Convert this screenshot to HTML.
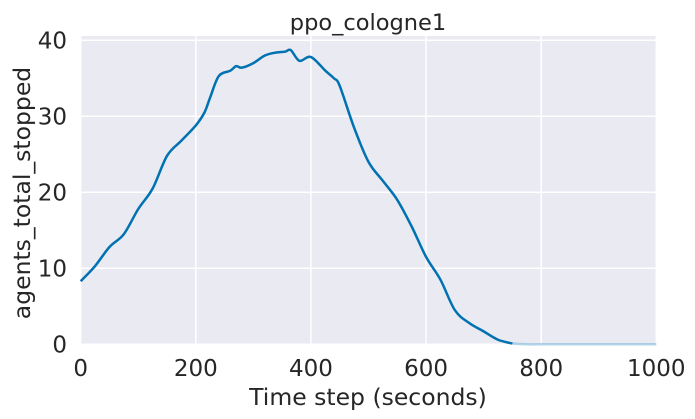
<!DOCTYPE html>
<html><head><meta charset="utf-8"><style>
html,body{margin:0;padding:0;background:#fff;}
svg{display:block;font-family:"DejaVu Sans","Liberation Sans",sans-serif;}
</style></head><body>
<svg id="chart" width="695" height="419">
<rect x="80.7" y="36" width="575.6" height="308.3" fill="#EAEAF2"/>
<g id="grid"></g><g id="series"></g><g id="ticks"></g>
<text x="368" y="30" text-anchor="middle" font-size="22.5" fill="#262626">ppo_cologne1</text>
<text x="368" y="405" text-anchor="middle" font-size="23.5" fill="#262626">Time step (seconds)</text>
<text x="0" y="0" transform="translate(30,193) rotate(-90)" text-anchor="middle" font-size="23.5" fill="#262626">agents_total_stopped</text>
</svg>
<script>
const xs=[0,25,50,75,100,125,150,175,200,215,225,240,260,270,280,300,320,340,355,365,380,400,425,440,450,475,500,525,550,575,600,625,650,675,700,725,750,775,800,900,1000];
const ys=[8.3,10.3,12.8,14.5,17.8,20.5,24.8,26.8,28.8,30.5,32.5,35.3,36,36.6,36.4,37,38,38.4,38.5,38.7,37.3,37.8,36,35,34,28.5,24,21.5,19,15.5,11.5,8.5,4.5,2.8,1.7,0.6,0.1,0,0,0,0];
const xTicks=[0,200,400,600,800,1000];
const yTicks=[0,10,20,30,40];
const X=v=>80.7+v*0.5756, Y=v=>344.3-v*7.6;
const ns="http://www.w3.org/2000/svg";
const g=document.getElementById('grid'),t=document.getElementById('ticks'),s=document.getElementById('series');
function mk(tag,a,p){const e=document.createElementNS(ns,tag);for(const k in a)e.setAttribute(k,a[k]);p.appendChild(e);return e;}
xTicks.forEach(v=>{
 const l=mk('line',{x1:X(v),x2:X(v),y1:36,y2:344.3,stroke:'#fff','stroke-width':1.5},g);
 
 
 const tx=mk('text',{x:X(v),y:376,'text-anchor':'middle','font-size':23,fill:'#262626'},t);
 tx.textContent=v;
 
 
});
yTicks.forEach(v=>{
 const l=mk('line',{x1:80.7,x2:656.3,y1:Y(v),y2:Y(v),stroke:'#fff','stroke-width':1.5},g);
 
 
 const tx=mk('text',{x:67,y:Y(v)+8,'text-anchor':'end','font-size':23,fill:'#262626'},t);
 tx.textContent=v;
 
 
});
function pathFor(pts){
 let d='M'+X(pts[0][0])+','+Y(pts[0][1]);
 for(let i=1;i<pts.length;i++){const p0=pts[Math.max(i-2,0)],p1=pts[i-1],p2=pts[i],p3=pts[Math.min(i+1,pts.length-1)];
  const c1x=X(p1[0])+(X(p2[0])-X(p0[0]))/6,c1y=Y(p1[1])+(Y(p2[1])-Y(p0[1]))/6;
  const c2x=X(p2[0])-(X(p3[0])-X(p1[0]))/6,c2y=Y(p2[1])-(Y(p3[1])-Y(p1[1]))/6;
  d+=` C${c1x},${c1y} ${c2x},${c2y} ${X(p2[0])},${Y(p2[1])}`;}
 return d;}
const pts=xs.map((x,i)=>[x,ys[i]]);
const main=pts.filter(p=>p[0]<=760), tail=pts.filter(p=>p[0]>=750);
const f=mk('path',{d:pathFor(tail),fill:'none',stroke:'#0072B2','stroke-opacity':0.3,'stroke-width':2.5},s);


const m=mk('path',{d:pathFor(main),fill:'none',stroke:'#0072B2','stroke-width':2.5,'stroke-linejoin':'round'},s);


</script>
</body></html>
